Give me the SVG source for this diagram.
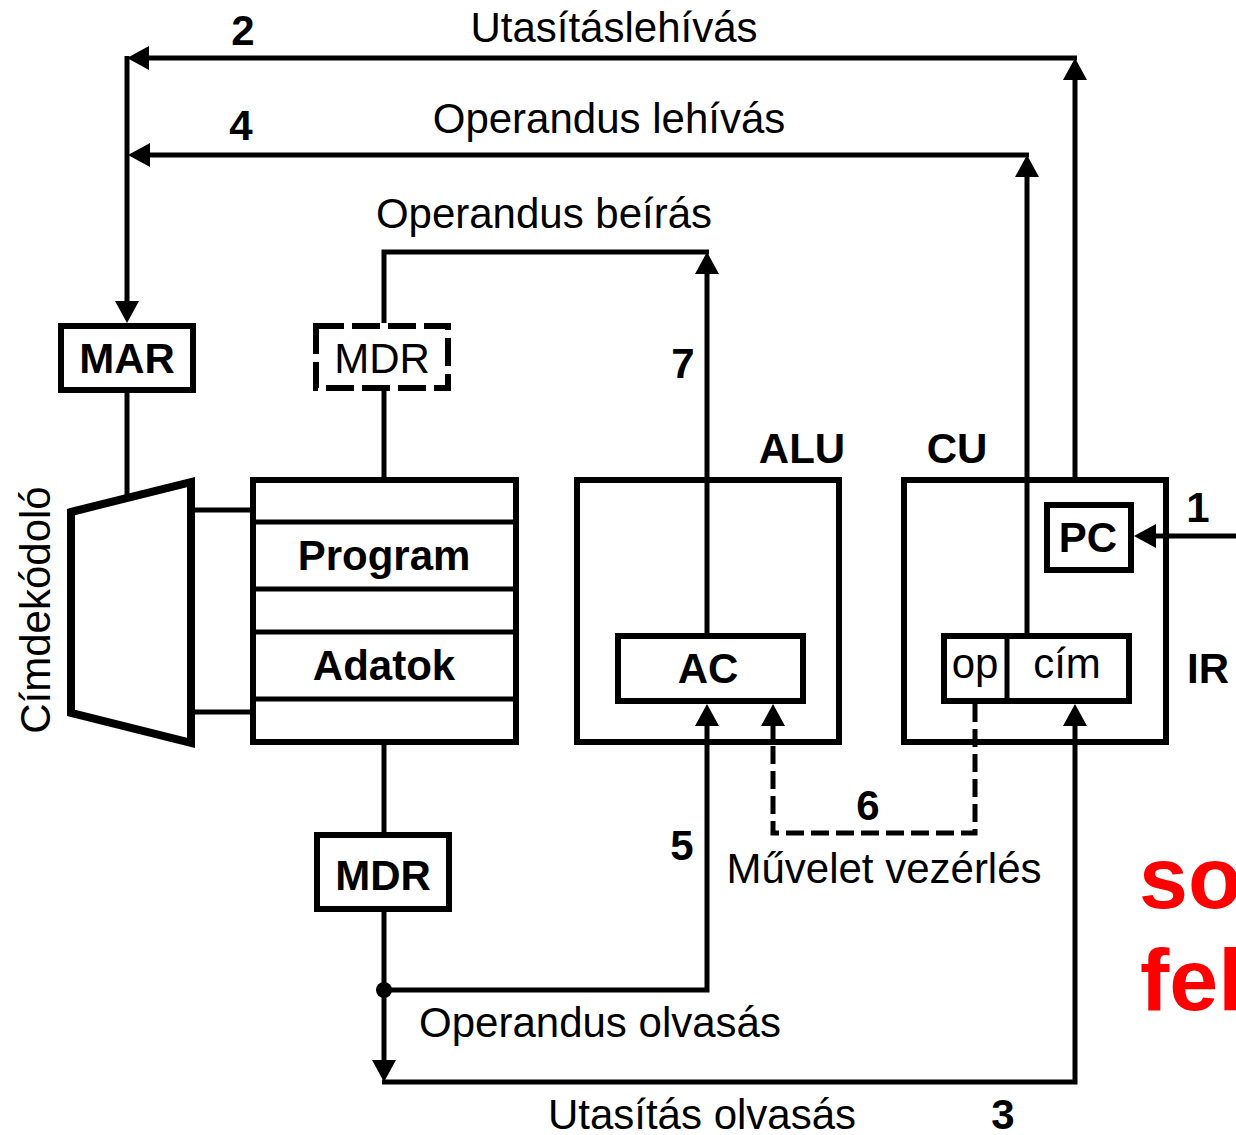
<svg xmlns="http://www.w3.org/2000/svg" width="1236" height="1135" viewBox="0 0 1236 1135">
<style>
.box{fill:#fff;stroke:#000;stroke-width:6}
.ln{fill:none;stroke:#000;stroke-width:5}
.dash{fill:none;stroke:#000;stroke-width:5;stroke-dasharray:18 7}
.t{font-family:"Liberation Sans",Arial,sans-serif;font-size:42px;fill:#000}
.b{font-family:"Liberation Sans",Arial,sans-serif;font-size:42px;font-weight:bold;fill:#000}
.c{text-anchor:middle}
.red{font-family:"Liberation Sans",Arial,sans-serif;font-size:88px;font-weight:bold;fill:#ff0000}
</style>
<defs>
<marker id="arr" markerUnits="userSpaceOnUse" markerWidth="22" markerHeight="24" refX="12" refY="12" orient="auto" viewBox="0 0 22 24">
<path d="M0,0 L22,12 L0,24 z" fill="#000"/>
</marker>
</defs>
<rect width="1236" height="1135" fill="#fff"/>

<g id="decoder">
<polygon points="71,512 191,482 191,743 71,713" fill="#fff" stroke="#000" stroke-width="8"/>
<text class="t c" transform="translate(50,610) rotate(-90)">Címdekódoló</text>
</g>

<g id="mar">
<rect class="box" x="61" y="326" width="132" height="64"/>
<text class="b c" x="127" y="373">MAR</text>
</g>

<g id="mdr-top">
<rect x="316" y="326" width="132" height="62" fill="#fff" stroke="#000" stroke-width="6" stroke-dasharray="28 8"/>
<text class="t c" x="382" y="373">MDR</text>
</g>

<g id="memory">
<rect class="box" x="253" y="480" width="263" height="262"/>
<path class="ln" d="M253,522 H516 M253,589 H516 M253,632 H516 M253,699 H516"/>
<text class="b c" x="384" y="570">Program</text>
<text class="b c" x="384" y="680">Adatok</text>
</g>

<g id="alu">
<rect class="box" x="577" y="480" width="262" height="262"/>
<text class="b c" x="802" y="463">ALU</text>
</g>
<g id="ac">
<rect class="box" x="618" y="636" width="185" height="65"/>
<text class="b c" x="708" y="683">AC</text>
</g>

<g id="cu">
<rect class="box" x="904" y="480" width="262" height="262"/>
<text class="b c" x="957" y="463">CU</text>
</g>
<g id="pc">
<rect class="box" x="1047" y="505" width="84" height="65"/>
<text class="b c" x="1088" y="552">PC</text>
</g>
<g id="ir">
<rect class="box" x="944" y="636" width="185" height="65"/>
<path class="ln" d="M1007,636 V701"/>
<text class="t c" x="975" y="678">op</text>
<text class="t c" x="1067" y="678">cím</text>
<text class="b c" x="1208" y="683">IR</text>
</g>

<g id="mdr-bottom">
<rect class="box" x="317" y="835" width="132" height="74"/>
<text class="b c" x="383" y="890">MDR</text>
</g>

<g id="connectors">
<path class="ln" d="M1075,477 V68" marker-end="url(#arr)"/>
<path class="ln" d="M1077,58 H137" marker-end="url(#arr)"/>
<path class="ln" d="M1027,633 V165" marker-end="url(#arr)"/>
<path class="ln" d="M1029,155 H138" marker-end="url(#arr)"/>
<path class="ln" d="M127,56 V313" marker-end="url(#arr)"/>
<path class="ln" d="M127,393 V498"/>
<path class="ln" d="M384,323 V252 H709"/>
<path class="ln" d="M707,633 V262" marker-end="url(#arr)"/>
<path class="ln" d="M384,391 V477"/>
<path class="ln" d="M384,745 V832"/>
<path class="ln" d="M384,911 V1072" marker-end="url(#arr)"/>
<path class="ln" d="M382,1082 H1075 V714" marker-end="url(#arr)"/>
<path class="ln" d="M384,990 H707 V714" marker-end="url(#arr)"/>
<circle cx="384" cy="990" r="8" fill="#000"/>
<path class="dash" d="M975,704 V833 H773 V714" marker-end="url(#arr)"/>
<path class="ln" d="M1236,536 H1144" marker-end="url(#arr)"/>
<path class="ln" d="M194,510 H253"/>
<path class="ln" d="M194,712 H253"/>
</g>

<g id="labels">
<text class="b c" x="243" y="45">2</text>
<text class="t c" x="614" y="42">Utasításlehívás</text>
<text class="b c" x="241" y="140">4</text>
<text class="t c" x="609" y="133">Operandus lehívás</text>
<text class="t c" x="544" y="228">Operandus beírás</text>
<text class="b c" x="683" y="378">7</text>
<text class="b c" x="1198" y="522">1</text>
<text class="b c" x="682" y="860">5</text>
<text class="b c" x="868" y="820">6</text>
<text class="t c" x="884" y="883">Művelet vezérlés</text>
<text class="t c" x="600" y="1037">Operandus olvasás</text>
<text class="t c" x="702" y="1129">Utasítás olvasás</text>
<text class="b c" x="1003" y="1129">3</text>
<text class="red" x="1139" y="908">so</text>
<text class="red" x="1140" y="1010">fel</text>
</g>
</svg>
